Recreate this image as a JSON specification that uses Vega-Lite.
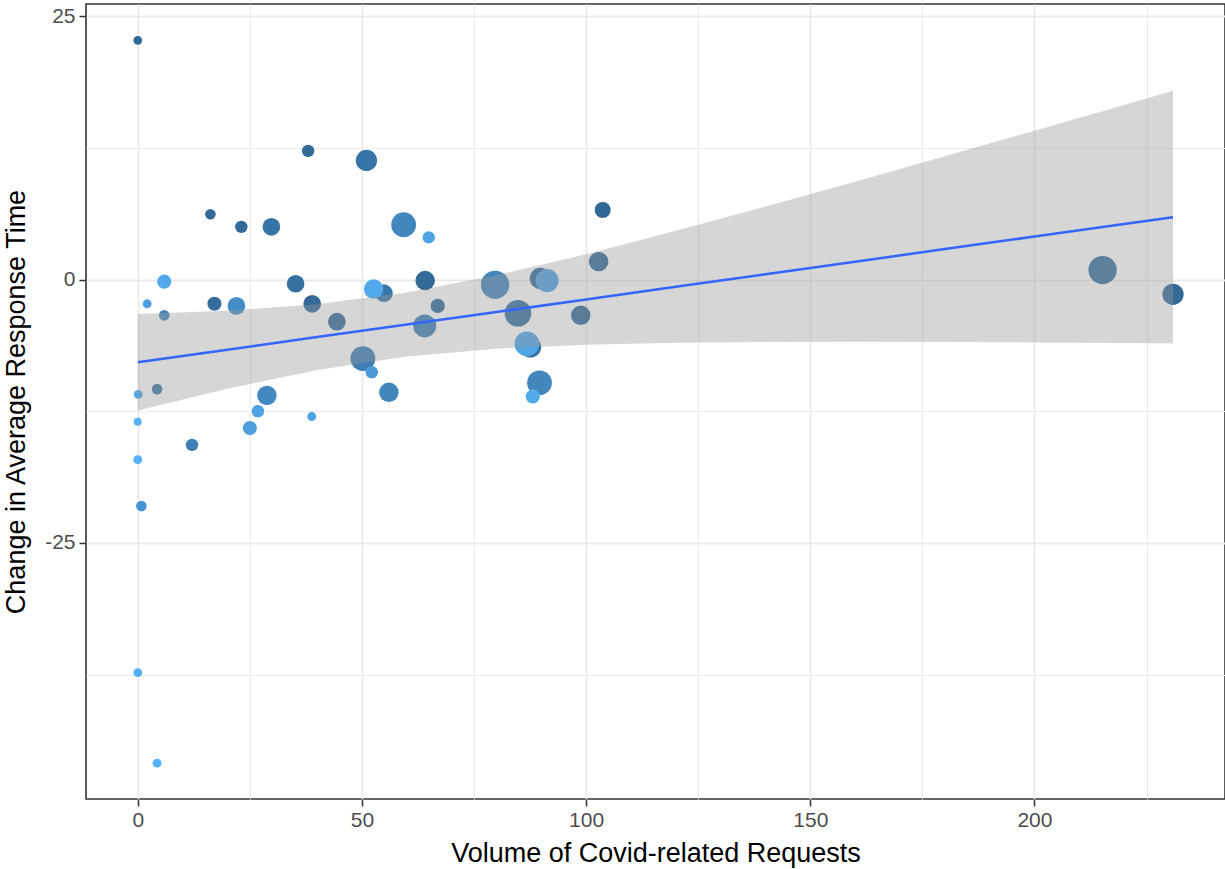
{
  "$schema": "https://vega.github.io/schema/vega-lite/v6.json",
  "width": 1139,
  "height": 795,
  "autosize": {"type": "none"},
  "padding": {"left": 86, "top": 4, "right": 0, "bottom": 70},
  "background": "white",
  "datasets": {
    "points": [
      {"x": 0, "y": 22.7, "n": 4.9, "shade": 0.5},
      {"x": 38.0, "y": 12.2, "n": 7, "shade": 0.5},
      {"x": 16.2, "y": 6.2, "n": 6, "shade": 0.5},
      {"x": 23.1, "y": 5.0, "n": 7, "shade": 0.5},
      {"x": 29.8, "y": 5.0, "n": 10, "shade": 0.58},
      {"x": 5.9, "y": -0.2, "n": 8, "shade": 0.95},
      {"x": 2.1, "y": -2.3, "n": 5, "shade": 0.88},
      {"x": 5.9, "y": -3.4, "n": 6, "shade": 0.7},
      {"x": 17.1, "y": -2.3, "n": 8, "shade": 0.52},
      {"x": 22.0, "y": -2.5, "n": 10, "shade": 0.75},
      {"x": 35.2, "y": -0.4, "n": 10, "shade": 0.55},
      {"x": 38.9, "y": -2.3, "n": 10, "shade": 0.5},
      {"x": 44.4, "y": -4.0, "n": 10, "shade": 0.5},
      {"x": 0.1, "y": -10.9, "n": 5, "shade": 0.95},
      {"x": 4.3, "y": -10.4, "n": 6, "shade": 0.6},
      {"x": 28.8, "y": -11.0, "n": 11, "shade": 0.72},
      {"x": 26.8, "y": -12.5, "n": 7, "shade": 0.9},
      {"x": 38.8, "y": -13.0, "n": 5, "shade": 0.9},
      {"x": 0, "y": -13.5, "n": 4.5, "shade": 1.0},
      {"x": 25.0, "y": -14.1, "n": 8, "shade": 0.88},
      {"x": 12.1, "y": -15.7, "n": 7, "shade": 0.65},
      {"x": 0, "y": -17.1, "n": 5, "shade": 1.0},
      {"x": 0.8, "y": -21.5, "n": 6, "shade": 0.8},
      {"x": 0, "y": -37.3, "n": 5, "shade": 1.0},
      {"x": 4.3, "y": -45.9, "n": 5, "shade": 1.0},
      {"x": 51.0, "y": 11.3, "n": 12, "shade": 0.58},
      {"x": 59.3, "y": 5.2, "n": 14, "shade": 0.7},
      {"x": 64.9, "y": 4.0, "n": 7, "shade": 0.92},
      {"x": 103.7, "y": 6.6, "n": 9, "shade": 0.48},
      {"x": 102.8, "y": 1.7, "n": 11, "shade": 0.5},
      {"x": 64.1, "y": -0.1, "n": 11, "shade": 0.5},
      {"x": 79.7, "y": -0.5, "n": 16, "shade": 0.7},
      {"x": 89.8, "y": 0.1, "n": 12, "shade": 0.5},
      {"x": 91.3, "y": -0.1, "n": 13, "shade": 0.9},
      {"x": 54.9, "y": -1.3, "n": 10, "shade": 0.6},
      {"x": 52.6, "y": -0.9, "n": 11, "shade": 0.95},
      {"x": 66.9, "y": -2.5, "n": 8, "shade": 0.5},
      {"x": 64.0, "y": -4.4, "n": 13, "shade": 0.65},
      {"x": 84.8, "y": -3.2, "n": 15, "shade": 0.55},
      {"x": 98.8, "y": -3.4, "n": 11, "shade": 0.5},
      {"x": 87.6, "y": -6.4, "n": 12, "shade": 0.55},
      {"x": 86.8, "y": -6.1, "n": 14, "shade": 0.92},
      {"x": 50.2, "y": -7.5, "n": 14, "shade": 0.65},
      {"x": 52.2, "y": -8.8, "n": 7, "shade": 0.85},
      {"x": 56.0, "y": -10.7, "n": 11, "shade": 0.7},
      {"x": 89.6, "y": -9.8, "n": 14, "shade": 0.7},
      {"x": 88.1, "y": -11.1, "n": 8, "shade": 0.95},
      {"x": 215.2, "y": 0.9, "n": 16, "shade": 0.55},
      {"x": 230.9, "y": -1.4, "n": 12, "shade": 0.5}
    ],
    "fit": [
      {"x": 0, "fit": -7.85, "lo": -12.43, "hi": -3.27},
      {"x": 20, "fit": -6.66, "lo": -10.36, "hi": -2.96},
      {"x": 40, "fit": -5.46, "lo": -8.58, "hi": -2.34},
      {"x": 60, "fit": -4.27, "lo": -7.31, "hi": -1.23},
      {"x": 80, "fit": -3.08, "lo": -6.56, "hi": 0.40},
      {"x": 100, "fit": -1.89, "lo": -6.19, "hi": 2.41},
      {"x": 120, "fit": -0.69, "lo": -6.00, "hi": 4.62},
      {"x": 140, "fit": 0.50, "lo": -5.92, "hi": 6.92},
      {"x": 160, "fit": 1.69, "lo": -5.91, "hi": 9.29},
      {"x": 180, "fit": 2.89, "lo": -5.93, "hi": 11.71},
      {"x": 200, "fit": 4.08, "lo": -5.97, "hi": 14.13},
      {"x": 220, "fit": 5.27, "lo": -6.03, "hi": 16.57},
      {"x": 230.9, "fit": 5.92, "lo": -6.07, "hi": 17.91}
    ]
  },
  "encoding": {
    "x": {
      "field": "x",
      "type": "quantitative",
      "scale": {"domain": [-11.55, 242.5], "nice": false, "zero": false},
      "title": "Volume of Covid-related Requests",
      "axis": {
        "values": [0, 25, 50, 75, 100, 125, 150, 175, 200, 225],
        "labelExpr": "datum.value % 50 === 0 ? toString(datum.value) : ''",
        "tickOpacity": {"condition": {"test": "datum.value % 50 !== 0", "value": 0}, "value": 1},
        "gridWidth": {"condition": {"test": "datum.value % 50 !== 0", "value": 1.1}, "value": 1.8},
        "labelPadding": 3,
        "titlePadding": 10
      }
    }
  },
  "layer": [
    {
      "data": {"name": "points"},
      "mark": {"type": "circle", "opacity": 1},
      "encoding": {
        "y": {
          "field": "y",
          "type": "quantitative",
          "scale": {"domain": [-49.3, 26.15], "nice": false, "zero": false},
          "title": "Change in Average Response Time",
          "axis": {
            "values": [-37.5, -25, -12.5, 0, 12.5, 25],
            "labelExpr": "datum.value % 25 === 0 ? toString(datum.value) : ''",
            "tickOpacity": {"condition": {"test": "datum.value % 25 !== 0", "value": 0}, "value": 1},
            "gridWidth": {"condition": {"test": "datum.value % 25 !== 0", "value": 1.1}, "value": 1.8},
            "labelPadding": 4,
            "titlePadding": 14
          }
        },
        "size": {
          "field": "n",
          "type": "quantitative",
          "scale": {"type": "pow", "exponent": 2, "domain": [0, 16], "range": [0, 804]},
          "legend": null
        },
        "color": {
          "field": "shade",
          "type": "quantitative",
          "scale": {"domain": [0, 1], "range": ["#132B43", "#56B1F7"], "interpolate": "lab"},
          "legend": null
        }
      }
    },
    {
      "data": {"name": "fit"},
      "mark": {"type": "area", "color": "#999999", "opacity": 0.4},
      "encoding": {
        "y": {"field": "lo", "type": "quantitative", "scale": {"domain": [-49.3, 26.15], "nice": false, "zero": false}, "title": "Change in Average Response Time"},
        "y2": {"field": "hi"}
      }
    },
    {
      "data": {"name": "fit"},
      "mark": {"type": "line", "color": "#3366FF", "strokeWidth": 2.5},
      "encoding": {
        "y": {"field": "fit", "type": "quantitative", "scale": {"domain": [-49.3, 26.15], "nice": false, "zero": false}, "title": "Change in Average Response Time"}
      }
    }
  ],
  "config": {
    "view": {"stroke": "#333333", "strokeWidth": 1.6},
    "axis": {
      "labelFont": "Liberation Sans",
      "titleFont": "Liberation Sans",
      "labelColor": "#4d4d4d",
      "titleColor": "#000000",
      "labelFontSize": 21,
      "titleFontSize": 27,
      "titleFontWeight": "normal",
      "tickColor": "#333333",
      "tickSize": 7,
      "tickWidth": 1.5,
      "domain": false,
      "gridColor": "#ebebeb"
    }
  }
}
